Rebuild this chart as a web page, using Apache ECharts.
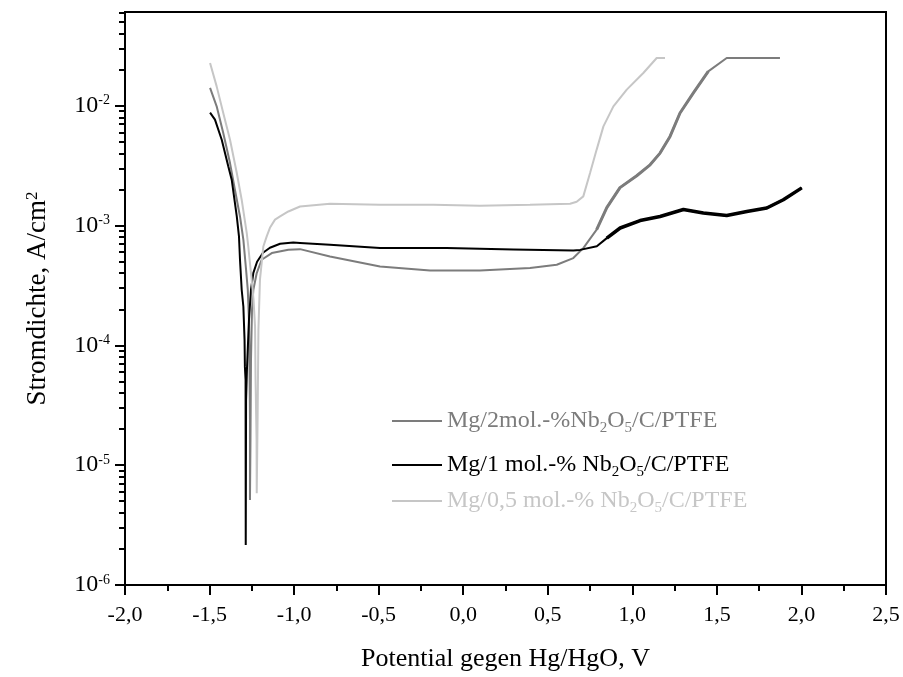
<!DOCTYPE html>
<html>
<head>
<meta charset="utf-8">
<script src="https://cdn.jsdelivr.net/npm/echarts@6/dist/echarts.min.js"></script>
<style>html,body{margin:0;padding:0;background:#fff}#c{width:903px;height:677px}</style>
</head>
<body>
<div id="c"></div>
<script>
// ---- data (potential in V vs Hg/HgO, current density in A/cm2) ----
const seriesNames = ['Mg/2mol.-%Nb2O5/C/PTFE', 'Mg/1 mol.-% Nb2O5/C/PTFE', 'Mg/0,5 mol.-% Nb2O5/C/PTFE'];

const mg2_x = [-1.497, -1.458, -1.419, -1.379, -1.350, -1.320, -1.300, -1.284, -1.274, -1.267, -1.264, -1.261, -1.261, -1.258, -1.255, -1.249, -1.241, -1.221, -1.192, -1.132, -1.034, -0.965, -0.788, -0.492, -0.196, 0.099, 0.395, 0.553, 0.651, 0.710, 0.789, 0.849, 0.927, 1.026, 1.105, 1.164, 1.223, 1.282, 1.361, 1.449, 1.558, 1.873];
const mg2_y = [1.406e-2, 9.87e-3, 5.91e-3, 3.32e-3, 1.99e-3, 1.19e-3, 7.60e-4, 4.27e-4, 2.91e-4, 1.63e-4, 7.57e-5, 2.39e-5, 5.13e-6, 1.63e-5, 7.57e-5, 1.98e-4, 2.91e-4, 4.01e-4, 5.18e-4, 5.89e-4, 6.27e-4, 6.35e-4, 5.52e-4, 4.55e-4, 4.21e-4, 4.21e-4, 4.42e-4, 4.70e-4, 5.35e-4, 6.48e-4, 9.23e-4, 1.41e-3, 2.07e-3, 2.60e-3, 3.21e-3, 4.02e-3, 5.54e-3, 8.69e-3, 1.277e-2, 1.932e-2, 2.50e-2, 2.50e-2];

const mg1_x = [-1.497, -1.468, -1.428, -1.389, -1.369, -1.339, -1.326, -1.320, -1.310, -1.300, -1.293, -1.291, -1.287, -1.286, -1.284, -1.279, -1.267, -1.255, -1.241, -1.219, -1.184, -1.143, -1.083, -1.005, -0.965, -0.788, -0.492, -0.098, 0.296, 0.651, 0.691, 0.790, 0.849, 0.928, 1.046, 1.164, 1.302, 1.420, 1.558, 1.677, 1.795, 1.893, 2.002];
const mg1_y = [8.74e-3, 7.64e-3, 5.20e-3, 3.11e-3, 2.41e-3, 1.19e-3, 8.11e-4, 5.18e-4, 2.91e-4, 2.10e-4, 1.11e-4, 6.61e-5, 5.15e-5, 2.16e-6, 3.51e-5, 6.24e-5, 1.63e-4, 2.91e-4, 4.03e-4, 4.98e-4, 5.92e-4, 6.52e-4, 7.04e-4, 7.22e-4, 7.16e-4, 6.90e-4, 6.48e-4, 6.48e-4, 6.32e-4, 6.19e-4, 6.26e-4, 6.70e-4, 7.85e-4, 9.53e-4, 1.10e-3, 1.19e-3, 1.36e-3, 1.27e-3, 1.21e-3, 1.31e-3, 1.40e-3, 1.64e-3, 2.06e-3];

const mg05_x = [-1.497, -1.458, -1.419, -1.379, -1.339, -1.310, -1.280, -1.271, -1.251, -1.240, -1.231, -1.228, -1.222, -1.221, -1.216, -1.211, -1.202, -1.182, -1.162, -1.143, -1.113, -1.083, -1.034, -0.965, -0.788, -0.492, -0.177, 0.099, 0.395, 0.632, 0.671, 0.710, 0.750, 0.789, 0.829, 0.888, 0.967, 1.065, 1.144, 1.193];
const mg05_y = [2.275e-2, 1.449e-2, 8.69e-3, 5.20e-3, 2.74e-3, 1.64e-3, 8.65e-4, 6.68e-4, 3.52e-4, 2.40e-4, 1.44e-4, 5.15e-5, 1.63e-5, 5.83e-6, 2.39e-5, 1.35e-4, 3.52e-4, 6.68e-4, 8.11e-4, 9.57e-4, 1.12e-3, 1.19e-3, 1.31e-3, 1.44e-3, 1.52e-3, 1.49e-3, 1.49e-3, 1.46e-3, 1.49e-3, 1.52e-3, 1.58e-3, 1.75e-3, 2.74e-3, 4.30e-3, 6.72e-3, 9.87e-3, 1.361e-2, 1.875e-2, 2.50e-2, 2.50e-2];

const yMajorTicks = [1e-6, 1e-5, 1e-4, 1e-3, 1e-2];
const yMinorMultipliers = [2, 3, 4, 5, 6, 7, 8, 9];
// ---------------------------------------------------------------

const yMin = 1e-6, yMax = 0.0605;
const yMinorTicks = [];
yMajorTicks.forEach(p => yMinorMultipliers.forEach(k => {
  const v = +(k * p).toPrecision(3);
  if (v < yMax) yMinorTicks.push(v);
}));

const zip = (xs, ys) => xs.map((x, i) => [x, ys[i]]);
const FONT = 'Liberation Serif';
const colors = ['#7c7c7c', '#000000', '#c6c6c6'];
const legendTops = [406, 450, 486];

function richName(n) {
  return n.replace('Nb2O5', 'Nb{sub|2}O{sub|5}');
}

const chart = echarts.init(document.getElementById('c'), null, {renderer: 'canvas'});
const legends = seriesNames.map((n, i) => ({
  data: [{name: n, icon: 'rect'}],
  left: 392,
  top: legendTops[i],
  padding: 0,
  itemWidth: 50,
  itemHeight: 2,
  selectedMode: false,
  formatter: richName,
  textStyle: {
    fontFamily: FONT, fontSize: 24, color: colors[i], lineHeight: 30,
    rich: {sub: {fontFamily: FONT, fontSize: 15, color: colors[i], verticalAlign: 'bottom', lineHeight: 15}}
  }
}));

const data = [zip(mg2_x, mg2_y), zip(mg1_x, mg1_y), zip(mg05_x, mg05_y)];
// noisy (thicker-looking) parts of the anodic branches
const noisy = [data[0].filter(p => p[0] >= 0.78 && p[0] <= 1.45), data[1].filter(p => p[0] >= 0.84), []];
const drawOrder = [2, 0, 1];

const series = [];
drawOrder.forEach(i => {
  series.push({
    name: seriesNames[i], type: 'line', data: data[i], yAxisIndex: 0,
    showSymbol: false, symbol: 'none', smooth: false,
    lineStyle: {color: colors[i], width: 2}, itemStyle: {color: colors[i]}, z: 2 + i
  });
  if (noisy[i].length) series.push({
    name: seriesNames[i], type: 'line', data: noisy[i], yAxisIndex: 0,
    showSymbol: false, symbol: 'none', smooth: false,
    lineStyle: {color: colors[i], width: i === 1 ? 3.5 : 3}, itemStyle: {color: colors[i]}, z: 2 + i
  });
});

chart.setOption({
  backgroundColor: '#fff',
  animation: false,
  grid: {left: 125, right: 17, top: 12, bottom: 92, show: true, borderColor: '#000', borderWidth: 2, backgroundColor: 'transparent'},
  legend: legends,
  xAxis: {
    type: 'value', min: -2, max: 2.5, interval: 0.5,
    axisLine: {show: true, onZero: false, lineStyle: {color: '#000', width: 2}},
    axisTick: {show: true, inside: false, length: 10, lineStyle: {color: '#000', width: 2}},
    minorTick: {show: true, splitNumber: 2, length: 6, lineStyle: {color: '#000', width: 2}},
    splitLine: {show: false},
    axisLabel: {margin: 19, fontFamily: FONT, fontSize: 22, color: '#000',
      formatter: v => v.toFixed(1).replace('.', ',')},
    name: 'Potential gegen Hg/HgO, V', nameLocation: 'middle', nameGap: 61,
    nameTextStyle: {fontFamily: FONT, fontSize: 26, color: '#000'}
  },
  yAxis: [{
    type: 'log', logBase: 10, min: yMin, max: yMax,
    axisLine: {show: true, onZero: false, lineStyle: {color: '#000', width: 2}},
    axisTick: {show: true, inside: false, length: 10, customValues: yMajorTicks, lineStyle: {color: '#000', width: 2}},
    splitLine: {show: false},
    axisLabel: {
      customValues: yMajorTicks, margin: 15, fontFamily: FONT, fontSize: 24, color: '#000', lineHeight: 24,
      formatter: v => '10{sup|' + Math.round(Math.log10(v)) + '}',
      rich: {sup: {fontFamily: FONT, fontSize: 14, color: '#000', verticalAlign: 'top', lineHeight: 14}}
    },
    name: 'Stromdichte, A/cm{sup|2}', nameLocation: 'middle', nameGap: 74,
    nameTextStyle: {fontFamily: FONT, fontSize: 27, color: '#000',
      rich: {sup: {fontFamily: FONT, fontSize: 17, color: '#000', verticalAlign: 'top', lineHeight: 17}}}
  }, {
    type: 'log', logBase: 10, min: yMin, max: yMax, position: 'left', offset: 0,
    axisLine: {show: false, onZero: false},
    axisTick: {show: true, inside: false, length: 6, customValues: yMinorTicks, lineStyle: {color: '#000', width: 2}},
    axisLabel: {show: false},
    splitLine: {show: false}
  }],
  series: series
});
</script>
</body>
</html>
